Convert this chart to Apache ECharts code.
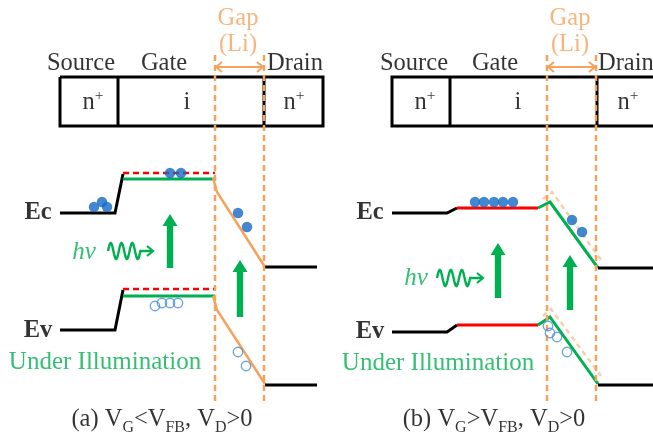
<!DOCTYPE html>
<html><head><meta charset="utf-8">
<script src="https://cdn.jsdelivr.net/npm/echarts@6/dist/echarts.min.js"></script>
<style>html,body{margin:0;padding:0;background:#fff}#c{width:653px;height:437px}</style>
</head><body><div id="c"></div>
<script>
// ===== Diagram data (x: position along device, y: energy level, figure units) =====
// Panel (a)  V_G < V_FB
const deviceBoxA   = [[60,77],[323,77],[323,126],[60,126],[60,77]];
const dividerA     = [[118,77],[118,126]];
const drainEdgeA   = [[264,77],[264,126]];
const gapLinesA    = [215, 264];
const ecSourceA    = [[60,213],[115,213],[123,174]];
const ecDarkA      = [[123,173],[215,173]];
const ecLightA     = [[123,179],[215,179]];
const ecGapA       = [[213,178],[217,192],[265,267]];
const ecDrainA     = [[265,267],[317,267]];
const evSourceA    = [[60,330],[115,330],[123,290]];
const evDarkA      = [[123,289],[215,289]];
const evLightA     = [[123,296],[215,296]];
const evGapA       = [[213,296],[217,310],[265,384]];
const evDrainA     = [[265,385],[317,385]];
const electronsA   = [[94,207],[102,202],[107,207],[170,173],[181,173],[238,213],[247,227]];
const holesA       = [[155,306],[162,303],[170,303],[178,303],[238,352],[246,366]];
const arrowsA      = [[170,268,214],[240,317,260]];   // x, bottom, top
const photonA      = [[108,153,251]];                  // x start, x end, y

// Panel (b)  V_G > V_FB
const deviceBoxB   = [[662,77],[392,77],[392,126],[662,126]];
const dividerB     = [[450,77],[450,126]];
const drainEdgeB   = [[597,77],[597,126]];
const gapLinesB    = [547, 596];
const ecSourceB    = [[392,213],[447,213],[457,208]];
const ecGateB      = [[457,208],[538,208]];
const ecGapB       = [[538,208],[550,202],[598,268]];
const ecGapDarkB   = [[543,199],[552,192],[601,260]];
const ecDrainB     = [[598,268],[653,268]];
const evSourceB    = [[392,332],[447,332],[457,325]];
const evGateB      = [[457,325],[538,325]];
const evGapB       = [[538,325],[550,317],[598,384]];
const evGapDarkB   = [[543,316],[551,309],[601,376]];
const evDrainB     = [[598,385],[653,385]];
const electronsB   = [[475,202],[484,202],[494,202],[503,202],[513,202],[572,220],[582,232]];
const holesB       = [[548,326],[550,333],[557,337],[567,352]];
const arrowsB      = [[498,298,243],[570,310,255]];
const photonB      = [[437,483,278]];

// Text labels
const headerNames  = ['Source','Gate','Drain'];
const headerXA     = [81,164,295];
const headerXB     = [414,495,598];
const regionNames  = ['n{sup|+}','i','n{sup|+}'];
const regionXA     = [93,187,294];
const regionXB     = [425,518,628];
const gapTitle     = ['Gap','(Li)'];
const gapXs        = [238,570];
const captions     = ['(a) V{s|G}<V{s|FB}, V{s|D}>0','(b) V{s|G}>V{s|FB}, V{s|D}>0'];
const captionXs    = [162,494];
const bandNames    = ['Ec','Ev'];
const bandLabelXs  = [38,370];
const bandLabelYs  = [[213,331],[213,332]];

// ===== Styles =====
const FONT = "'Liberation Serif','Times New Roman',serif";
const ORANGE = '#f5a25c', ORANGE_LIGHT = '#f9cfa8', GREEN = '#00b050', RED = '#ff0000',
      BLUE = '#1469c4', HOLE = '#4a8fd8', BLACK = '#000';

const series = [];
function L(data, color, width, type, z){
  series.push({type:'line', data, symbol:'none', silent:true, animation:false, clip:false, z:z||3,
    lineStyle:{color, width, type:type||'solid', cap:'butt', join:'miter'}});
}
function vlines(xs){ return xs.map(x=>[[x,55],[x,404]]); }

// Panel a
L(deviceBoxA, BLACK, 3); L(dividerA, BLACK, 3); L(drainEdgeA, BLACK, 3);
vlines(gapLinesA).forEach(d=>L(d, ORANGE, 2.5, [6,4], 4));
L(ecSourceA, BLACK, 3); L(ecDarkA, RED, 2.5, [6,4]); L(ecLightA, GREEN, 3);
L(ecGapA, ORANGE, 2.5); L(ecDrainA, BLACK, 3);
L(evSourceA, BLACK, 3); L(evDarkA, RED, 2.5, [6,4]); L(evLightA, GREEN, 3);
L(evGapA, ORANGE, 2.5); L(evDrainA, BLACK, 3);
// Panel b
L(deviceBoxB, BLACK, 3); L(dividerB, BLACK, 3); L(drainEdgeB, BLACK, 3);
vlines(gapLinesB).forEach(d=>L(d, ORANGE, 2.5, [6,4], 4));
L(ecGapDarkB, ORANGE_LIGHT, 2.5, [5,4], 2); L(evGapDarkB, ORANGE_LIGHT, 2.5, [5,4], 2);
L(ecSourceB, BLACK, 3); L(ecGateB, RED, 3); L(ecGapB, GREEN, 3); L(ecDrainB, BLACK, 3);
L(evSourceB, BLACK, 3); L(evGateB, RED, 3); L(evGapB, GREEN, 3); L(evDrainB, BLACK, 3);

// carriers
series.push({type:'scatter', data: electronsA.concat(electronsB), symbol:'circle', symbolSize:10.5,
  itemStyle:{color:BLUE}, silent:true, animation:false, z:6});
series.push({type:'scatter', data: holesA.concat(holesB), symbol:'circle', symbolSize:9.5,
  itemStyle:{color:'rgba(255,255,255,0)', borderColor:HOLE, borderWidth:1.3}, silent:true, animation:false, z:6});

// green up-arrows (generation)
series.push({type:'custom', data: arrowsA.concat(arrowsB), encode:{x:0,y:1}, silent:true, animation:false, z:5,
  renderItem(params, api){
    const b = api.coord([api.value(0), api.value(1)]), t = api.coord([api.value(0), api.value(2)]);
    const sw = 3.2, hw = 7.5, hh = 12;
    return {type:'polygon', shape:{points:[[b[0]-sw,b[1]],[b[0]-sw,t[1]+hh],[b[0]-hw,t[1]+hh],[t[0],t[1]],
      [b[0]+hw,t[1]+hh],[b[0]+sw,t[1]+hh],[b[0]+sw,b[1]]]}, style:{fill:GREEN}};
  }});

// photon wave  hν ~~~>
series.push({type:'custom', data: photonA.concat(photonB), encode:{x:[0,1],y:2}, silent:true, animation:false, z:5,
  renderItem(params, api){
    const s = api.coord([api.value(0), api.value(2)]), e = api.coord([api.value(1), api.value(2)]);
    const waveLen = (e[0]-s[0]) * 0.72, pts = [];
    for (let i=0;i<=60;i++){ const f=i/60; pts.push([s[0]+f*waveLen, s[1]-8*Math.sin(f*Math.PI*6)]); }
    pts.push([e[0], s[1]]);
    return {type:'group', children:[
      {type:'polyline', shape:{points:pts}, style:{stroke:GREEN, lineWidth:2.4, fill:null}},
      {type:'polyline', shape:{points:[[e[0]-6,s[1]-5],[e[0],s[1]],[e[0]-6,s[1]+5]]}, style:{stroke:GREEN, lineWidth:2.2, fill:null}}
    ]};
  }});

// Gap (Li) double arrows
series.push({type:'custom', data: [[gapLinesA[0],gapLinesA[1],67],[gapLinesB[0],gapLinesB[1],67]], encode:{x:[0,1],y:2},
  silent:true, animation:false, z:5,
  renderItem(params, api){
    const s = api.coord([api.value(0), api.value(2)]), e = api.coord([api.value(1), api.value(2)]);
    const st = {stroke:ORANGE, lineWidth:2, fill:null};
    return {type:'group', children:[
      {type:'line', shape:{x1:s[0]+1,y1:s[1],x2:e[0]-1,y2:e[1]}, style:st},
      {type:'polyline', shape:{points:[[s[0]+7,s[1]-5],[s[0]+1,s[1]],[s[0]+7,s[1]+5]]}, style:st},
      {type:'polyline', shape:{points:[[e[0]-7,e[1]-5],[e[0]-1,e[1]],[e[0]-7,e[1]+5]]}, style:st}
    ]};
  }});

// text labels via scatter
const texts = [];
function T(x, y, text, o){
  o = o || {};
  const sub = o.sub || 15.5;
  texts.push({value:[x,y], label:{show:true, position:'inside', formatter:text, fontFamily:FONT,
    fontSize:o.size||24.5, fontWeight:o.weight||'normal', fontStyle:o.style||'normal', color:o.color||BLACK,
    align:o.align||'center', verticalAlign:'middle', lineHeight:o.lh||30,
    rich:{
      sup:{fontSize:sub, lineHeight:15, verticalAlign:'top', fontFamily:FONT, color:o.color||BLACK},
      s:{fontSize:sub, lineHeight:15, verticalAlign:'bottom', fontFamily:FONT, color:o.color||BLACK}
    }}});
}
headerNames.forEach((n,i)=>{ T(headerXA[i],64,n); T(headerXB[i],64,n,{align: i===2?'left':'center'}); });
regionNames.forEach((n,i)=>{ T(regionXA[i],103,n); T(regionXB[i],103,n); });
gapXs.forEach(x=>{ T(x,19,gapTitle[0],{color:ORANGE}); T(x,45,gapTitle[1],{color:ORANGE}); });
captions.forEach((c,i)=>T(captionXs[i],420,c,{lh:32, size:24.5, sub:16}));
bandLabelXs.forEach((x,i)=>{ T(x,bandLabelYs[i][0],bandNames[0],{weight:'bold',size:24.5}); T(x,bandLabelYs[i][1],bandNames[1],{weight:'bold',size:24.5}); });
T(84,252,'hv',{style:'italic',color:GREEN,size:25}); T(416,278,'hv',{style:'italic',color:GREEN,size:25});
T(105,362,'Under Illumination',{color:GREEN,size:25}); T(438,363,'Under Illumination',{color:GREEN,size:25});
series.push({type:'scatter', data:texts, symbolSize:1, itemStyle:{color:'rgba(0,0,0,0)'}, silent:true, animation:false, z:10});

const chart = echarts.init(document.getElementById('c'), null, {renderer:'canvas'});
chart.setOption({
  animation:false,
  backgroundColor:'#fff',
  grid:{left:0, right:0, top:0, bottom:0},
  xAxis:{type:'value', min:0, max:653, show:false},
  yAxis:{type:'value', min:0, max:437, inverse:true, show:false},
  series
});
</script>
</body></html>
